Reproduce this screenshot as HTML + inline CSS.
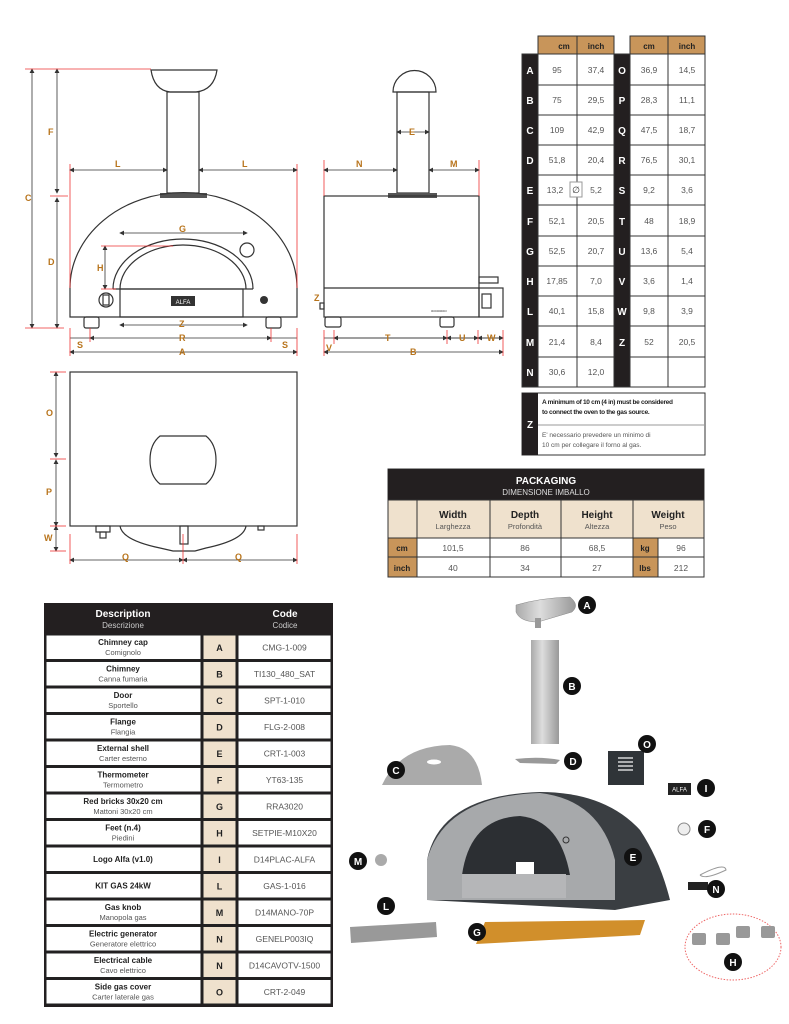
<!DOCTYPE html>
<html><head><meta charset="utf-8"><style>
html,body{margin:0;padding:0;background:#fff}
svg{display:block}
text{font-family:"Liberation Sans",sans-serif}
.lb{font-size:9px;font-weight:bold;fill:#b8741c}
.dk{fill:#231f20}
.tg{font-size:8.5px;fill:#555;text-anchor:middle}
.tw{font-size:10px;font-weight:bold;fill:#fff;text-anchor:middle}
.ln{stroke:#333;stroke-width:1.2;fill:none}
.dm{stroke:#333;stroke-width:.8;fill:none}
.rd{stroke:#e33;stroke-width:.8}
.bd{font-size:8px;font-weight:bold;fill:#222;text-anchor:middle}
.it{font-size:7.5px;fill:#555;text-anchor:middle}
.cd{font-size:8.5px;fill:#555;text-anchor:middle}
.cl{font-size:10px;font-weight:bold;fill:#fff;text-anchor:middle}
</style></head><body>
<svg width="789" height="1024" viewBox="0 0 789 1024" xmlns="http://www.w3.org/2000/svg">
<defs><marker id="ar" markerWidth="6" markerHeight="6" refX="5" refY="3" orient="auto-start-reverse"><path d="M0,0 L6,3 L0,6z" fill="#333"/></marker></defs>

<!-- FRONT VIEW -->
<path class="ln" d="M151,70 L217,70 Q214,90 196,92 L170,92 Q154,90 151,70z"/>
<rect class="ln" x="167" y="92" width="32" height="101"/>
<rect x="160" y="193" width="47" height="5" fill="#555"/>
<path class="ln" d="M70,317 L70,288 A113,95 0 0 1 297,288 L297,317 Z"/>
<path class="ln" d="M113,289 A70,50 0 0 1 253,289 M120,289 A63,44 0 0 1 246,289"/>
<line class="ln" x1="113" y1="289" x2="253" y2="289"/>
<rect class="ln" x="120" y="289" width="123" height="28"/>
<rect x="171" y="296" width="24" height="10" fill="#333"/><text x="183" y="304" font-size="6" fill="#fff" text-anchor="middle">ALFA</text>
<circle class="ln" cx="247" cy="250" r="7"/>
<circle class="ln" cx="106" cy="300" r="7"/><rect class="ln" x="103" y="295" width="6" height="10"/>
<circle cx="264" cy="300" r="4" fill="#333"/>
<rect class="ln" x="84" y="317" width="15" height="11" rx="2"/><rect class="ln" x="266" y="317" width="15" height="11" rx="2"/>
<line class="dm" x1="32" y1="69" x2="32" y2="328" marker-start="url(#ar)" marker-end="url(#ar)"/>
<line class="dm" x1="57" y1="69" x2="57" y2="193" marker-start="url(#ar)" marker-end="url(#ar)"/>
<line class="dm" x1="57" y1="198" x2="57" y2="328" marker-start="url(#ar)" marker-end="url(#ar)"/>
<line class="rd" x1="25" y1="69" x2="151" y2="69"/><line class="rd" x1="25" y1="328" x2="64" y2="328"/><line class="rd" x1="50" y1="196" x2="68" y2="196"/>
<line class="rd" x1="70" y1="164" x2="70" y2="288"/><line class="rd" x1="297" y1="164" x2="297" y2="288"/>
<line class="dm" x1="70" y1="170" x2="167" y2="170" marker-start="url(#ar)" marker-end="url(#ar)"/>
<line class="dm" x1="199" y1="170" x2="297" y2="170" marker-start="url(#ar)" marker-end="url(#ar)"/>
<line class="dm" x1="120" y1="233" x2="247" y2="233" marker-start="url(#ar)" marker-end="url(#ar)"/>
<line class="dm" x1="105" y1="246" x2="105" y2="289" marker-start="url(#ar)" marker-end="url(#ar)"/>
<line class="rd" x1="101" y1="246" x2="173" y2="246"/><line class="rd" x1="101" y1="289" x2="116" y2="289"/>
<line class="dm" x1="120" y1="325" x2="247" y2="325" marker-start="url(#ar)" marker-end="url(#ar)"/>
<line class="dm" x1="90" y1="338" x2="271" y2="338" marker-start="url(#ar)" marker-end="url(#ar)"/>
<line class="dm" x1="70" y1="338" x2="90" y2="338"/><line class="dm" x1="271" y1="338" x2="297" y2="338"/>
<line class="dm" x1="70" y1="352" x2="297" y2="352" marker-start="url(#ar)" marker-end="url(#ar)"/>
<line class="rd" x1="70" y1="328" x2="70" y2="356"/><line class="rd" x1="297" y1="328" x2="297" y2="356"/>
<line class="rd" x1="90" y1="328" x2="90" y2="342"/><line class="rd" x1="271" y1="328" x2="271" y2="342"/>
<text class="lb" x="25" y="201">C</text><text class="lb" x="48" y="135">F</text><text class="lb" x="48" y="265">D</text>
<text class="lb" x="97" y="271">H</text><text class="lb" x="115" y="167">L</text><text class="lb" x="242" y="167">L</text>
<text class="lb" x="179" y="232">G</text><text class="lb" x="179" y="327">Z</text><text class="lb" x="179" y="341">R</text>
<text class="lb" x="179" y="355">A</text><text class="lb" x="77" y="348">S</text><text class="lb" x="282" y="348">S</text>

<!-- SIDE VIEW -->
<path class="ln" d="M393,92 A21.5,21.5 0 0 1 436,92 Z"/>
<rect class="ln" x="397" y="92" width="32" height="101"/>
<rect x="388" y="193" width="49" height="5" fill="#555"/>
<rect class="ln" x="324" y="196" width="155" height="121"/>
<line class="ln" x1="324" y1="288" x2="479" y2="288"/>
<rect class="ln" x="479" y="288" width="24" height="29"/><rect class="ln" x="482" y="294" width="9" height="14"/>
<rect class="ln" x="479" y="277" width="19" height="6"/>
<rect class="ln" x="320" y="303" width="4" height="6"/>
<rect class="ln" x="325" y="317" width="16" height="10" rx="2"/><rect class="ln" x="440" y="317" width="14" height="10" rx="2"/>
<text x="431" y="312" font-size="4" fill="#333">ooooooo</text>
<line class="dm" x1="397" y1="132" x2="429" y2="132" marker-start="url(#ar)" marker-end="url(#ar)"/>
<line class="rd" x1="324" y1="160" x2="324" y2="196"/><line class="rd" x1="479" y1="160" x2="479" y2="196"/>
<line class="dm" x1="324" y1="170" x2="397" y2="170" marker-start="url(#ar)" marker-end="url(#ar)"/>
<line class="dm" x1="429" y1="170" x2="479" y2="170" marker-start="url(#ar)" marker-end="url(#ar)"/>
<line class="dm" x1="324" y1="338" x2="503" y2="338"/>
<line class="dm" x1="334" y1="338" x2="447" y2="338" marker-start="url(#ar)" marker-end="url(#ar)"/>
<line class="dm" x1="447" y1="338" x2="478" y2="338" marker-start="url(#ar)" marker-end="url(#ar)"/>
<line class="dm" x1="478" y1="338" x2="503" y2="338" marker-start="url(#ar)" marker-end="url(#ar)"/>
<line class="dm" x1="324" y1="352" x2="503" y2="352" marker-start="url(#ar)" marker-end="url(#ar)"/>
<line class="rd" x1="324" y1="330" x2="324" y2="356"/><line class="rd" x1="334" y1="330" x2="334" y2="344"/><line class="rd" x1="447" y1="330" x2="447" y2="344"/><line class="rd" x1="478" y1="330" x2="478" y2="344"/><line class="rd" x1="503" y1="330" x2="503" y2="356"/>
<text class="lb" x="409" y="135">E</text><text class="lb" x="356" y="167">N</text><text class="lb" x="450" y="167">M</text>
<text class="lb" x="314" y="301">Z</text><text class="lb" x="385" y="341">T</text><text class="lb" x="459" y="341">U</text>
<text class="lb" x="487" y="341">W</text><text class="lb" x="326" y="351">V</text><text class="lb" x="410" y="355">B</text>

<!-- TOP VIEW -->
<rect class="ln" x="70" y="372" width="227" height="154"/>
<path class="ln" d="M160,436 L206,436 Q216,444 216,460 Q216,476 206,484 L160,484 Q150,476 150,460 Q150,444 160,436Z"/>
<path class="ln" d="M120,526 Q122,540 160,548 L173,551 L195,551 L206,548 Q244,540 246,526"/>
<rect class="ln" x="180" y="526" width="8" height="18"/>
<rect class="ln" x="96" y="526" width="14" height="6"/><rect class="ln" x="100" y="532" width="6" height="6"/>
<rect class="ln" x="258" y="526" width="6" height="4"/>
<line class="dm" x1="56" y1="372" x2="56" y2="457" marker-start="url(#ar)" marker-end="url(#ar)"/>
<line class="dm" x1="56" y1="460" x2="56" y2="526" marker-start="url(#ar)" marker-end="url(#ar)"/>
<line class="dm" x1="56" y1="526" x2="56" y2="551" marker-start="url(#ar)" marker-end="url(#ar)"/>
<line class="rd" x1="50" y1="372" x2="66" y2="372"/><line class="rd" x1="50" y1="459" x2="66" y2="459"/><line class="rd" x1="50" y1="526" x2="66" y2="526"/><line class="rd" x1="50" y1="551" x2="66" y2="551"/>
<line class="dm" x1="70" y1="560" x2="183" y2="560" marker-start="url(#ar)" marker-end="url(#ar)"/>
<line class="dm" x1="183" y1="560" x2="297" y2="560" marker-start="url(#ar)" marker-end="url(#ar)"/>
<line class="rd" x1="70" y1="534" x2="70" y2="564"/><line class="rd" x1="183" y1="534" x2="183" y2="564"/><line class="rd" x1="297" y1="534" x2="297" y2="564"/>
<text class="lb" x="46" y="416">O</text><text class="lb" x="46" y="495">P</text><text class="lb" x="44" y="541">W</text>
<text class="lb" x="122" y="560">Q</text><text class="lb" x="235" y="560">Q</text>

<!-- DIM TABLE -->
<g stroke="#333" stroke-width="1">
<rect x="538" y="36" width="76" height="18" fill="#c8955a"/><line x1="577" y1="36" x2="577" y2="54"/>
<rect x="630" y="36" width="75" height="18" fill="#c8955a"/><line x1="668" y1="36" x2="668" y2="54"/>
<rect x="522" y="54" width="16" height="333" fill="#231f20"/><rect x="614" y="54" width="16" height="333" fill="#231f20"/>
<rect x="538" y="54" width="76" height="333" fill="#fff"/><rect x="630" y="54" width="75" height="333" fill="#fff"/>
<line x1="577" y1="54" x2="577" y2="387"/><line x1="668" y1="54" x2="668" y2="387"/>
<path d="M538,85H614M538,115H614M538,145H614M538,175H614M538,205H614M538,236H614M538,266H614M538,296H614M538,326H614M538,357H614M630,85H705M630,115H705M630,145H705M630,175H705M630,205H705M630,236H705M630,266H705M630,296H705M630,326H705M630,357H705"/>
<rect x="570" y="182" width="12" height="15" fill="#fff" stroke="#999"/>
</g>
<text x="564" y="49" class="bd">cm</text><text x="596" y="49" class="bd">inch</text><text x="649" y="49" class="bd">cm</text><text x="687" y="49" class="bd">inch</text>
<g class="tw"><text x="530" y="74">A</text><text x="530" y="104">B</text><text x="530" y="134">C</text><text x="530" y="164">D</text><text x="530" y="194">E</text><text x="530" y="225">F</text><text x="530" y="255">G</text><text x="530" y="285">H</text><text x="530" y="315">L</text><text x="530" y="346">M</text><text x="530" y="376">N</text>
<text x="622" y="74">O</text><text x="622" y="104">P</text><text x="622" y="134">Q</text><text x="622" y="164">R</text><text x="622" y="194">S</text><text x="622" y="225">T</text><text x="622" y="255">U</text><text x="622" y="285">V</text><text x="622" y="315">W</text><text x="622" y="346">Z</text></g>
<g class="tg"><text x="557" y="73">95</text><text x="557" y="103">75</text><text x="557" y="133">109</text><text x="557" y="163">51,8</text><text x="555" y="193">13,2</text><text x="557" y="224">52,1</text><text x="557" y="254">52,5</text><text x="557" y="284">17,85</text><text x="557" y="314">40,1</text><text x="557" y="345">21,4</text><text x="557" y="375">30,6</text>
<text x="596" y="73">37,4</text><text x="596" y="103">29,5</text><text x="596" y="133">42,9</text><text x="596" y="163">20,4</text><text x="596" y="193">5,2</text><text x="596" y="224">20,5</text><text x="596" y="254">20,7</text><text x="596" y="284">7,0</text><text x="596" y="314">15,8</text><text x="596" y="345">8,4</text><text x="596" y="375">12,0</text>
<text x="649" y="73">36,9</text><text x="649" y="103">28,3</text><text x="649" y="133">47,5</text><text x="649" y="163">76,5</text><text x="649" y="193">9,2</text><text x="649" y="224">48</text><text x="649" y="254">13,6</text><text x="649" y="284">3,6</text><text x="649" y="314">9,8</text><text x="649" y="345">52</text>
<text x="687" y="73">14,5</text><text x="687" y="103">11,1</text><text x="687" y="133">18,7</text><text x="687" y="163">30,1</text><text x="687" y="193">3,6</text><text x="687" y="224">18,9</text><text x="687" y="254">5,4</text><text x="687" y="284">1,4</text><text x="687" y="314">3,9</text><text x="687" y="345">20,5</text></g>
<text x="576" y="193" font-size="9" fill="#333" text-anchor="middle">∅</text>
<rect x="522" y="393" width="183" height="62" fill="#fff" stroke="#333"/><rect x="522" y="393" width="16" height="62" fill="#231f20"/>
<line x1="538" y1="425" x2="705" y2="425" stroke="#999"/>
<text x="530" y="428" class="tw">Z</text>
<text x="542" y="404" font-size="6.5" font-weight="bold" fill="#222" letter-spacing="-0.3">A minimum of 10 cm (4 in) must be considered</text>
<text x="542" y="414" font-size="6.5" font-weight="bold" fill="#222" letter-spacing="-0.3">to connect the oven to the gas source.</text>
<text x="542" y="437" font-size="6.5" fill="#555">E' necessario prevedere un minimo di</text>
<text x="542" y="447" font-size="6.5" fill="#555">10 cm per collegare il forno al gas.</text>

<!-- PACKAGING -->
<rect x="388" y="469" width="316" height="108" fill="#fff" stroke="#333"/>
<rect x="388" y="469" width="316" height="31" fill="#231f20"/>
<rect x="388" y="500" width="316" height="38" fill="#efe1cd" stroke="#333"/>
<rect x="388" y="538" width="29" height="39" fill="#c8955a" stroke="#333"/>
<rect x="633" y="538" width="25" height="39" fill="#c8955a" stroke="#333"/>
<g stroke="#333"><line x1="417" y1="500" x2="417" y2="577"/><line x1="490" y1="500" x2="490" y2="577"/><line x1="561" y1="500" x2="561" y2="577"/><line x1="633" y1="500" x2="633" y2="577"/><line x1="388" y1="557" x2="704" y2="557"/></g>
<text x="546" y="484" font-size="10" font-weight="bold" fill="#fff" text-anchor="middle">PACKAGING</text>
<text x="546" y="495" font-size="8" fill="#ddd" text-anchor="middle">DIMENSIONE IMBALLO</text>
<g font-size="10" font-weight="bold" fill="#222" text-anchor="middle"><text x="453" y="518">Width</text><text x="525" y="518">Depth</text><text x="597" y="518">Height</text><text x="668" y="518">Weight</text></g>
<g class="it" font-size="8"><text x="453" y="529">Larghezza</text><text x="525" y="529">Profondità</text><text x="597" y="529">Altezza</text><text x="668" y="529">Peso</text></g>
<g class="bd" font-size="8.5"><text x="402" y="551">cm</text><text x="402" y="571">inch</text><text x="645" y="551">kg</text><text x="645" y="571">lbs</text></g>
<g class="tg"><text x="453" y="551">101,5</text><text x="525" y="551">86</text><text x="597" y="551">68,5</text><text x="681" y="551">96</text>
<text x="453" y="571">40</text><text x="525" y="571">34</text><text x="597" y="571">27</text><text x="681" y="571">212</text></g>

<!-- DESCRIPTION TABLE -->
<rect x="44" y="603" width="289" height="404" fill="#231f20"/>
<text x="123" y="617" font-size="10" font-weight="bold" fill="#fff" text-anchor="middle">Description</text>
<text x="123" y="628" font-size="8" fill="#ccc" text-anchor="middle">Descrizione</text>
<text x="285" y="617" font-size="10" font-weight="bold" fill="#fff" text-anchor="middle">Code</text>
<text x="285" y="628" font-size="8" fill="#ccc" text-anchor="middle">Codice</text>
<g fill="#fff" stroke="#222">
<rect x="46" y="635" width="155" height="24.5"/><rect x="46" y="661.5" width="155" height="24.5"/><rect x="46" y="688" width="155" height="24.5"/><rect x="46" y="714.5" width="155" height="24.5"/><rect x="46" y="741" width="155" height="24.5"/><rect x="46" y="767.5" width="155" height="24.5"/><rect x="46" y="794" width="155" height="24.5"/><rect x="46" y="820.5" width="155" height="24.5"/><rect x="46" y="847" width="155" height="24.5"/><rect x="46" y="873.5" width="155" height="24.5"/><rect x="46" y="900" width="155" height="24.5"/><rect x="46" y="926.5" width="155" height="24.5"/><rect x="46" y="953" width="155" height="24.5"/><rect x="46" y="979.5" width="155" height="24.5"/>
<rect x="238" y="635" width="93" height="24.5"/><rect x="238" y="661.5" width="93" height="24.5"/><rect x="238" y="688" width="93" height="24.5"/><rect x="238" y="714.5" width="93" height="24.5"/><rect x="238" y="741" width="93" height="24.5"/><rect x="238" y="767.5" width="93" height="24.5"/><rect x="238" y="794" width="93" height="24.5"/><rect x="238" y="820.5" width="93" height="24.5"/><rect x="238" y="847" width="93" height="24.5"/><rect x="238" y="873.5" width="93" height="24.5"/><rect x="238" y="900" width="93" height="24.5"/><rect x="238" y="926.5" width="93" height="24.5"/><rect x="238" y="953" width="93" height="24.5"/><rect x="238" y="979.5" width="93" height="24.5"/>
</g>
<g fill="#efe1cd" stroke="#222">
<rect x="203" y="635" width="33" height="24.5"/><rect x="203" y="661.5" width="33" height="24.5"/><rect x="203" y="688" width="33" height="24.5"/><rect x="203" y="714.5" width="33" height="24.5"/><rect x="203" y="741" width="33" height="24.5"/><rect x="203" y="767.5" width="33" height="24.5"/><rect x="203" y="794" width="33" height="24.5"/><rect x="203" y="820.5" width="33" height="24.5"/><rect x="203" y="847" width="33" height="24.5"/><rect x="203" y="873.5" width="33" height="24.5"/><rect x="203" y="900" width="33" height="24.5"/><rect x="203" y="926.5" width="33" height="24.5"/><rect x="203" y="953" width="33" height="24.5"/><rect x="203" y="979.5" width="33" height="24.5"/>
</g>
<g class="bd" font-size="7.5">
<text x="123" y="645">Chimney cap</text><text x="123" y="671.5">Chimney</text><text x="123" y="698">Door</text><text x="123" y="724.5">Flange</text><text x="123" y="751">External shell</text><text x="123" y="777.5">Thermometer</text><text x="123" y="804">Red bricks 30x20 cm</text><text x="123" y="830.5">Feet (n.4)</text><text x="123" y="862">Logo Alfa (v1.0)</text><text x="123" y="888.5">KIT GAS 24kW</text><text x="123" y="910">Gas knob</text><text x="123" y="936.5">Electric generator</text><text x="123" y="963">Electrical cable</text><text x="123" y="989.5">Side gas cover</text></g>
<g class="it" font-size="7.5">
<text x="123" y="655">Comignolo</text><text x="123" y="681.5">Canna fumaria</text><text x="123" y="708">Sportello</text><text x="123" y="734.5">Flangia</text><text x="123" y="761">Carter esterno</text><text x="123" y="787.5">Termometro</text><text x="123" y="814">Mattoni 30x20 cm</text><text x="123" y="840.5">Piedini</text><text x="123" y="920">Manopola gas</text><text x="123" y="946.5">Generatore elettrico</text><text x="123" y="973">Cavo elettrico</text><text x="123" y="999.5">Carter laterale gas</text></g>
<g font-size="9" font-weight="bold" fill="#222" text-anchor="middle">
<text x="219.5" y="651">A</text><text x="219.5" y="677.5">B</text><text x="219.5" y="704">C</text><text x="219.5" y="730.5">D</text><text x="219.5" y="757">E</text><text x="219.5" y="783.5">F</text><text x="219.5" y="810">G</text><text x="219.5" y="836.5">H</text><text x="219.5" y="863">I</text><text x="219.5" y="889.5">L</text><text x="219.5" y="916">M</text><text x="219.5" y="942.5">N</text><text x="219.5" y="969">N</text><text x="219.5" y="995.5">O</text></g>
<g class="cd">
<text x="284.5" y="650.5">CMG-1-009</text><text x="284.5" y="677">TI130_480_SAT</text><text x="284.5" y="703.5">SPT-1-010</text><text x="284.5" y="730">FLG-2-008</text><text x="284.5" y="756.5">CRT-1-003</text><text x="284.5" y="783">YT63-135</text><text x="284.5" y="809.5">RRA3020</text><text x="284.5" y="836">SETPIE-M10X20</text><text x="284.5" y="862.5">D14PLAC-ALFA</text><text x="284.5" y="889">GAS-1-016</text><text x="284.5" y="915.5">D14MANO-70P</text><text x="284.5" y="942">GENELP003IQ</text><text x="284.5" y="968.5">D14CAVOTV-1500</text><text x="284.5" y="995">CRT-2-049</text></g>

<!-- EXPLODED VIEW -->
<defs><linearGradient id="st" x1="0" x2="1"><stop offset="0" stop-color="#aaa"/><stop offset=".4" stop-color="#ddd"/><stop offset="1" stop-color="#999"/></linearGradient></defs>
<path d="M516,605 Q540,598 570,597 Q580,605 572,612 L538,622 Q520,622 516,612Z" fill="url(#st)" stroke="#888" stroke-width=".5"/>
<rect x="535" y="618" width="6" height="10" fill="#999"/>
<rect x="531" y="640" width="28" height="104" fill="url(#st)"/>
<path d="M515,759 Q540,756 560,760 L556,764 L520,763Z" fill="#999"/>
<path d="M382,785 Q400,746 450,745 Q478,748 482,785Z" fill="#aaa"/><ellipse cx="434" cy="762" rx="7" ry="2.5" fill="#fff"/>
<rect x="608" y="751" width="36" height="34" fill="#2f3438"/>
<g stroke="#fff" stroke-width="1.2"><line x1="618" y1="758" x2="633" y2="758"/><line x1="618" y1="762" x2="633" y2="762"/><line x1="618" y1="766" x2="633" y2="766"/><line x1="618" y1="770" x2="633" y2="770"/></g>
<path d="M427,900 L427,860 Q440,795 540,792 Q605,792 640,830 Q660,860 670,900 L615,910 L427,900Z" fill="#3a3e42"/>
<path d="M427,900 L427,860 Q445,796 540,793 Q600,800 615,860 L615,900Z" fill="#a7a9ab"/>
<path d="M462,875 Q470,818 520,816 Q560,820 570,875Z" fill="#2c2f33"/>
<rect x="516" y="862" width="18" height="13" fill="#fff"/>
<path d="M462,874 L566,874 L566,898 L462,898Z" fill="#b5b6b8"/>
<circle cx="566" cy="840" r="3" fill="none" stroke="#333"/>
<rect x="668" y="783" width="23" height="12" fill="#222"/><text x="679.5" y="791.5" font-size="6" fill="#fff" text-anchor="middle" font-family="Liberation Serif">ALFA</text>
<circle cx="684" cy="829" r="6" fill="#eee" stroke="#888"/>
<circle cx="381" cy="860" r="6" fill="#aaa"/>
<path d="M350,927 L436,922 L437,937 L351,943Z" fill="#999"/>
<path d="M485,922 L645,920 L640,935 L476,944Z" fill="#d18f2b"/>
<path d="M700,875 Q725,862 726,870 Q705,880 700,875" fill="none" stroke="#999"/>
<rect x="688" y="882" width="20" height="8" fill="#222"/>
<ellipse cx="733" cy="947" rx="48" ry="33" fill="none" stroke="#e66" stroke-dasharray="1.5,1.5"/>
<g fill="#999"><rect x="692" y="933" width="14" height="12" rx="2"/><rect x="716" y="933" width="14" height="12" rx="2"/><rect x="736" y="926" width="14" height="12" rx="2"/><rect x="761" y="926" width="14" height="12" rx="2"/></g>
<g fill="#111"><circle cx="587" cy="605" r="9"/><circle cx="572" cy="686" r="9"/><circle cx="573" cy="761" r="9"/><circle cx="647" cy="744" r="9"/><circle cx="396" cy="770" r="9"/><circle cx="706" cy="788" r="9"/><circle cx="707" cy="829" r="9"/><circle cx="633" cy="857" r="9"/><circle cx="358" cy="861" r="9"/><circle cx="386" cy="906" r="9"/><circle cx="716" cy="889" r="9"/><circle cx="477" cy="932" r="9"/><circle cx="733" cy="962" r="9"/></g>
<g class="cl"><text x="587" y="609">A</text><text x="572" y="690">B</text><text x="573" y="765">D</text><text x="647" y="748">O</text><text x="396" y="774">C</text><text x="706" y="792">I</text><text x="707" y="833">F</text><text x="633" y="861">E</text><text x="358" y="865">M</text><text x="386" y="910">L</text><text x="716" y="893">N</text><text x="477" y="936">G</text><text x="733" y="966">H</text></g>
</svg>
</body></html>
